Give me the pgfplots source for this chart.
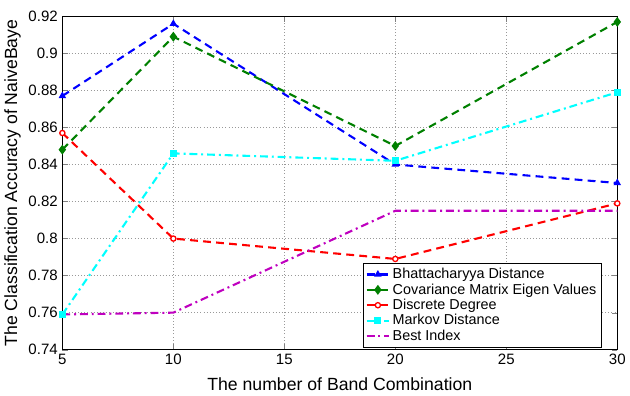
\documentclass[border=0pt]{standalone}
\usepackage{fontspec}
\setmainfont{Liberation Sans}
\usepackage{pgfplots}
\pgfplotsset{compat=1.18}
\definecolor{mblue}{rgb}{0,0,1}
\definecolor{mgreen}{rgb}{0,0.5,0}
\definecolor{mred}{rgb}{1,0,0}
\definecolor{mcyan}{rgb}{0,1,1}
\definecolor{mmag}{rgb}{0.75,0,0.75}
\begin{document}
\begin{tikzpicture}
\begin{axis}[
scale only axis,
width=424.5pt, height=255pt,
xmin=5, xmax=30, ymin=0.74, ymax=0.92,
xtick={5,10,15,20,25,30},
ytick={0.74,0.76,0.78,0.8,0.82,0.84,0.86,0.88,0.9,0.92},
/pgf/number format/assume math mode=true,
yticklabel style={/pgf/number format/fixed, /pgf/number format/precision=2},
tick label style={font=\fontsize{11.5}{13}\selectfont},
label style={font=\fontsize{13.5}{15}\selectfont},
xlabel={The number of Band Combination},
ylabel={The Classification Accuracy of NaiveBaye},
xlabel style={yshift=-3pt},
ylabel style={yshift=-1pt},
grid=major,
major grid style={dotted, gray!80},
tick align=inside,
legend cell align=left,
legend style={at={(0.972,0.006)}, anchor=south east, font=\fontsize{11}{12}\selectfont, draw=black, row sep=-1.7pt, inner sep=2pt},
every axis plot/.append style={line width=1.6pt, mark size=2pt},
]
\addplot[mblue, dash pattern=on 6pt off 4pt, mark=triangle*, mark options={solid}, mark size=1.8pt] coordinates {(5,0.877) (10,0.916) (20,0.840) (30,0.830)};
\addlegendentry{Bhattacharyya Distance}
\addplot[mgreen, dash pattern=on 6pt off 4pt, mark=diamond*, mark options={solid}, mark size=2.5pt] coordinates {(5,0.848) (10,0.909) (20,0.850) (30,0.917)};
\addlegendentry{Covariance Matrix Eigen Values}
\addplot[mred, dash pattern=on 6pt off 4pt, mark=*, mark options={solid, fill=white, line width=1pt}] coordinates {(5,0.857) (10,0.800) (20,0.789) (30,0.819)};
\addlegendentry{Discrete Degree}
\addplot[mcyan, dash pattern=on 6pt off 3pt on 1.5pt off 3pt, mark=square*, mark options={solid}, mark size=1.8pt] coordinates {(5,0.759) (10,0.846) (20,0.842) (30,0.879)};
\addlegendentry{Markov Distance}
\addplot[mmag, dash pattern=on 6pt off 3pt on 1.5pt off 3pt] coordinates {(5,0.759) (10,0.760) (20,0.815) (30,0.815)};
\addlegendentry{Best Index}
\end{axis}
\path (current axis.north west) ++(0pt,12.5pt) coordinate (pad);
\path[use as bounding box] (pad) rectangle (pad);
\end{tikzpicture}
\end{document}
